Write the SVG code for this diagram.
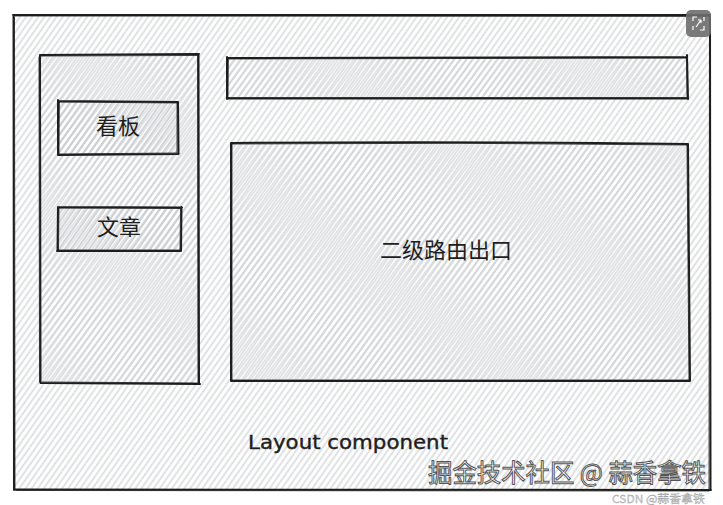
<svg xmlns="http://www.w3.org/2000/svg" width="723" height="505" viewBox="0 0 723 505">
<defs>
<pattern id="hach" width="5" height="20" patternUnits="userSpaceOnUse" patternTransform="rotate(35)">
<line x1="1" y1="0" x2="1" y2="20" stroke="#c2c5c8" stroke-width="1"/>
</pattern>
<pattern id="hach2" width="5" height="20" patternUnits="userSpaceOnUse" patternTransform="rotate(37) translate(2.5 0)">
<line x1="1" y1="0" x2="1" y2="20" stroke="#c8cbce" stroke-width="1"/>
</pattern>
<style>
.edge{fill:none;stroke:#1e1e1e;stroke-width:2;stroke-linecap:round;stroke-linejoin:round}
.edge2{fill:none;stroke:#1e1e1e;stroke-width:1;stroke-linecap:round;opacity:0.8}
.cjk{font-family:"Noto Sans CJK SC","Noto Sans",sans-serif;font-size:22px;fill:#1e1e1e;text-anchor:middle}
.hand{font-family:"DejaVu Sans","Liberation Sans",sans-serif;font-size:20px;fill:#1e1e1e;stroke:#1e1e1e;stroke-width:0.4}
.wm{font-family:"Noto Sans CJK SC","Noto Sans",sans-serif;font-size:25px;fill:#ffffff;stroke:#555;stroke-width:1}
.wm2{font-family:"Noto Sans CJK SC","Noto Sans",sans-serif;font-size:11px;fill:#d6d6d6;stroke:#9a9a9a;stroke-width:0.3}
</style>
</defs>
<rect width="723" height="505" fill="#ffffff"/>

<g id="layout">
<rect x="14" y="15" width="696" height="475" fill="url(#hach)"/>
<path class="edge" d="M13,15 L710,15 M710,15 L710.5,490 M711,490 L15,489.5 M14,490 L13.5,15"/>
<path class="edge2" d="M15,16 L709,16.5 M709.5,17 L709,489 M709,491 L16,490.5 M15,489 L14.5,17"/>
<text class="hand" x="248" y="449" textLength="200" lengthAdjust="spacingAndGlyphs">Layout component</text>
</g>

<g id="sidebar">
<rect x="40" y="55" width="159" height="328" fill="url(#hach2)"/>
<path class="edge" d="M40,55 L199,54 M198.5,54 L199,384 M200,384 L41,383 M40.5,383 L40,55"/>
<path class="edge2" d="M41,56 L198,55.5 M197.5,56 L198,382 M199,383 L42,382 M39.5,382 L39,57"/>
</g>

<g id="kanban">
<rect x="58" y="101" width="120" height="53" fill="url(#hach)" opacity="0.9"/>
<path class="edge" d="M58,101 L178,102 M178,102 L178.5,154 M178,154 L58,155 M58,155 L58,100"/>
<path class="edge2" d="M59,102 L177,103 M177,103 L177,153 M177,153 L59,154 M59,154 L59.5,102"/>
<text class="cjk" x="118" y="134">看板</text>
</g>

<g id="article">
<rect x="58" y="207" width="123" height="44" fill="url(#hach)" opacity="0.9"/>
<path class="edge" d="M58,207 L182,207.5 M181.5,207 L181,251 M181,251 L57,251 M57.5,251 L58,207"/>
<path class="edge2" d="M59,208 L180,208.5 M180.5,208 L180,250 M180,250 L58,250 M58.5,250 L59,208"/>
<text class="cjk" x="119" y="235">文章</text>
</g>

<g id="topbar">
<rect x="227" y="58" width="461" height="40" fill="url(#hach2)"/>
<path class="edge" d="M228,58 L687,57 M687,55 L688,99 M688,98.5 L227,98.5 M227,99 L227,57"/>
<path class="edge2" d="M229,59 L686,58 M686.5,58 L687,97 M687,97.5 L228,97.5 M228,98 L228.5,58"/>
</g>

<g id="outlet">
<rect x="231" y="143" width="458" height="238" fill="url(#hach2)"/>
<path class="edge" d="M231,143 Q460,141 688,144 M688,144 L690,381 M690,381 L231,381 M231,381 L231,143"/>
<path class="edge2" d="M232,144 Q460,142 687,145 M687,145 L689,380 M689,380 L232,380 M232,380 L232,144"/>
<text class="cjk" x="446" y="258">二级路由出口</text>
</g>

<g id="fullscreen-btn">
<rect x="686" y="10" width="25" height="27" rx="5" fill="#6d6d6d" opacity="0.9"/>
<path d="M693,21 L693,17 L697,17 M704,17 L704,21 M704,26 L704,30 L700,30 M693,26 L693,30 M696,27 L701,20 M701,20 L698,20 M701,20 L701,23" fill="none" stroke="#ffffff" stroke-width="1.2"/>
</g>

<g id="watermark">
<text class="wm" x="428" y="482" textLength="278" lengthAdjust="spacingAndGlyphs">掘金技术社区 @ 蒜香拿铁</text>
<text class="wm2" x="612" y="503" textLength="93" lengthAdjust="spacingAndGlyphs">CSDN @蒜香拿铁</text>
</g>
</svg>
